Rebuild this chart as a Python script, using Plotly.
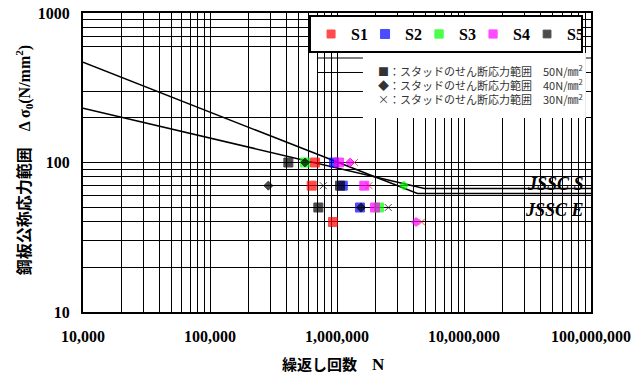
import math
import plotly.graph_objects as go

# --- fatigue test results: cycles N, plate stress range (N/mm2), stud shear range (N/mm2)
s1_n = [671000, 632000, 930000, 1373000, 1785000, 4637000]
s1_sr = [100, 70, 40, 100, 70, 40]
s1_stud = [50, 50, 50, 30, 30, 30]

s2_n = [947000, 1110000, 1517000]
s2_sr = [100, 70, 50]
s2_stud = [50, 50, 50]

s3_n = [560000, 3365000, 2140000]
s3_sr = [100, 70, 50]
s3_stud = [50, 40, 50]

s4_n = [1037000, 1266000, 1640000, 1991000, 4190000]
s4_sr = [100, 100, 70, 50, 40]
s4_stud = [50, 40, 50, 50, 40]

s5_n = [414000, 560000, 288000, 780000, 1056000, 713000, 1545000, 2533000]
s5_sr = [100, 100, 70, 70, 70, 50, 50, 50]
s5_stud = [50, 40, 40, 30, 50, 50, 40, 30]

series_names = ["S1", "S2", "S3", "S4", "S5"]
series_colors = ["#FF0000", "#0000FF", "#00FF00", "#FF00FF", "#000000"]

# --- JSSC design curves (break points)
jssc_s_n = [10000, 4870000, 100000000]
jssc_s_sr = [231, 67, 67]
jssc_e_n = [10000, 4300000, 100000000]
jssc_e_sr = [468, 62, 62]

# --- axis ticks
x_tickvals = [m * 10 ** e for e in range(4, 8) for m in range(1, 10)] + [10 ** 8]
x_ticktext = [f"{v:,}" if math.log10(v).is_integer() else "" for v in x_tickvals]
y_tickvals = [10, 20, 30, 40, 50, 60, 70, 80, 90, 100, 200, 300, 600, 700, 800, 900, 1000]
y_ticktext = [str(v) if v in (10, 100, 1000) else "" for v in y_tickvals]
y_partial_grid = [400, 500]

symbol_for_stud = {50: "square", 40: "diamond", 30: "x-thin"}
size_for_stud = {50: 9, 40: 7, 30: 7}

fig = go.Figure()

line_style = dict(color="black", width=1.5)
fig.add_trace(go.Scatter(x=jssc_s_n, y=jssc_s_sr, mode="lines", line=line_style,
                         showlegend=False, hoverinfo="skip"))
fig.add_trace(go.Scatter(x=jssc_e_n, y=jssc_e_sr, mode="lines", line=line_style,
                         showlegend=False, hoverinfo="skip"))

all_series = [(s1_n, s1_sr, s1_stud), (s2_n, s2_sr, s2_stud), (s3_n, s3_sr, s3_stud),
              (s4_n, s4_sr, s4_stud), (s5_n, s5_sr, s5_stud)]
for name, color, (n, sr, stud) in zip(series_names, series_colors, all_series):
    fig.add_trace(go.Scatter(
        x=n, y=sr, mode="markers", name=name,
        marker=dict(color=color,
                    symbol=[symbol_for_stud[s] for s in stud],
                    size=[size_for_stud[s] for s in stud],
                    line=dict(color=color, width=1)),
    ))

serif = "Liberation Serif, Noto Sans CJK JP"
tick_font = dict(family="Liberation Serif", size=16, color="black", weight="bold")

fig.update_xaxes(type="log", range=[4, 8], tickvals=x_tickvals, ticktext=x_ticktext,
                 tickfont=tick_font, ticks="", ticklabelstandoff=9,
                 showgrid=True, gridcolor="black", gridwidth=1,
                 showline=True, linecolor="black", linewidth=2, mirror=True, zeroline=False)
fig.update_yaxes(type="log", range=[1, 3], tickvals=y_tickvals, ticktext=y_ticktext,
                 tickfont=tick_font, ticks="", ticklabelstandoff=8,
                 showgrid=True, gridcolor="black", gridwidth=1,
                 showline=True, linecolor="black", linewidth=2, mirror=True, zeroline=False)

shapes = []
# gridlines at 400 and 500 run only from 700,000 cycles to the right edge
for v in y_partial_grid:
    yp = (math.log10(v) - 1) / 2
    shapes.append(dict(type="line", xref="paper", yref="paper",
                       x0=(math.log10(700000) - 4) / 4, x1=1, y0=yp, y1=yp,
                       line=dict(color="black", width=1), layer="below"))
# white panel behind the marker key
shapes.append(dict(type="rect", xref="paper", yref="paper",
                   x0=0.551, x1=0.990, y0=0.649, y1=0.866,
                   fillcolor="white", line=dict(width=0), layer="above"))

key_text = ("■：スタッドのせん断応力範囲　50N/㎜<sup>2</sup><br>"
            "◆：スタッドのせん断応力範囲　40N/㎜<sup>2</sup><br>"
            "×：スタッドのせん断応力範囲　30N/㎜<sup>2</sup>")

annotations = [
    dict(text=key_text, xref="paper", yref="paper", x=0.577, y=0.762,
         xanchor="left", yanchor="middle", align="left", showarrow=False,
         font=dict(family="Noto Sans CJK JP", size=11, color="#333333")),
    dict(text="JSSC S", xref="paper", yref="paper", x=0.990, y=0.428,
         xanchor="right", yanchor="middle", showarrow=False,
         font=dict(family="Liberation Serif", size=18, color="black",
                   weight="bold", style="italic")),
    dict(text="JSSC E", xref="paper", yref="paper", x=0.990, y=0.341,
         xanchor="right", yanchor="middle", showarrow=False,
         font=dict(family="Liberation Serif", size=18, color="black",
                   weight="bold", style="italic")),
    dict(text="繰返し回数　<span style='font-size:17px'>N</span>", xref="paper", yref="paper",
         x=0.494, y=-0.174, xanchor="center", yanchor="middle", showarrow=False,
         font=dict(family=serif, size=15, color="black", weight="bold")),
    dict(text="鋼板公称応力範囲　Δ σ<sub>0</sub>(N/mm<sup>2</sup>)", xref="paper", yref="paper",
         x=-0.116, y=0.508, xanchor="center", yanchor="middle", textangle=-90,
         showarrow=False, font=dict(family=serif, size=16, color="black", weight="bold")),
]

fig.update_layout(
    width=638, height=378,
    margin=dict(l=83, r=47, t=13, b=66, autoexpand=False),
    paper_bgcolor="white", plot_bgcolor="white",
    shapes=shapes, annotations=annotations,
    legend=dict(orientation="h", x=0.445, y=0.993, xanchor="left", yanchor="top",
                bgcolor="white", bordercolor="black", borderwidth=2,
                entrywidth=9, entrywidthmode="pixels", itemwidth=30,
                font=dict(family="Liberation Serif", size=16, color="black", weight="bold")),
)

fig.write_html("out.html")
